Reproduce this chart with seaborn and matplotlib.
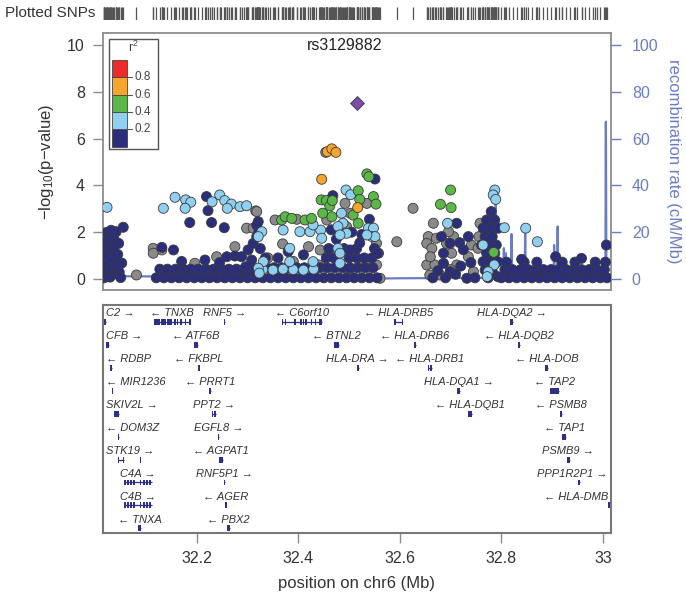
import numpy as np
import pandas as pd
import seaborn as sns
import matplotlib.pyplot as plt
from matplotlib.patches import Rectangle

# ---------------- SNP data (position in Mb, -log10 p), grouped by r2 with the lead SNP
lead_pos = [32.516]
lead_logp = [7.53]

orange_pos = [32.457, 32.466, 32.474, 32.446, 32.517]
orange_logp = [5.44, 5.56, 5.41, 4.26, 3.05]

green_pos = [32.535, 32.539, 32.518, 32.548, 32.553, 32.521, 32.445, 32.455, 32.462, 32.467,
             32.466, 32.448, 32.508, 32.518, 32.367, 32.374, 32.387, 32.413, 32.426, 32.700,
             32.680, 32.701, 32.785]
green_logp = [4.49, 4.37, 3.77, 3.52, 3.20, 3.40, 3.38, 3.35, 3.12, 3.35,
              2.66, 2.81, 2.73, 2.38, 2.52, 2.66, 2.59, 2.52, 2.59, 3.80,
              3.19, 3.05, 1.14]

lblue_pos = [32.023, 32.134, 32.157, 32.178, 32.188, 32.177, 32.230, 32.245, 32.255, 32.268,
             32.260, 32.285, 32.298,
             32.494, 32.503, 32.485, 32.488, 32.478, 32.495, 32.482, 32.403, 32.423, 32.444,
             32.446, 32.429, 32.538, 32.548, 32.545, 32.551, 32.535, 32.328, 32.321, 32.478,
             32.482, 32.383, 32.370, 32.482,
             32.330, 32.350, 32.370, 32.390, 32.410, 32.430, 32.331, 32.383, 32.429, 32.321, 32.323,
             32.787, 32.784, 32.789, 32.806, 32.848, 32.871, 32.764, 32.786, 32.774, 32.772, 32.694]
lblue_logp = [3.06, 3.02, 3.49, 3.38, 3.28, 3.02, 3.30, 3.59, 3.35, 3.20,
              3.02, 3.09, 3.13,
              3.80, 3.60, 2.81, 2.38, 2.24, 1.95, 1.88, 2.02, 2.02, 2.09,
              1.74, 2.31, 2.17, 2.17, 1.81, 1.81, 1.88, 2.02, 1.81, 1.31,
              1.10, 1.31, 2.09, 0.67,
              0.40, 0.38, 0.42, 0.40, 0.38, 0.42, 0.74, 0.74, 0.74, 0.46, 0.25,
              3.80, 3.59, 3.40, 2.19, 2.17, 1.59, 1.45, 0.60, 0.31, 0.10, 2.38]

navy_pos = [
    # left edge cluster
    32.017, 32.017, 32.017, 32.017, 32.019, 32.021, 32.022, 32.023, 32.024, 32.026,
    32.028, 32.031, 32.029, 32.031, 32.033, 32.035, 32.037, 32.040, 32.041, 32.044,
    32.047, 32.050, 32.052, 32.055, 32.041, 32.046,
    # 32.12 - 32.32
    32.120, 32.135, 32.150, 32.165, 32.180, 32.195, 32.210, 32.225, 32.240, 32.255,
    32.270, 32.285, 32.300, 32.315,
    32.127, 32.142, 32.158, 32.173, 32.188, 32.203, 32.218, 32.233, 32.248, 32.263,
    32.278, 32.293, 32.308,
    32.131, 32.154, 32.186, 32.229, 32.254, 32.219, 32.222, 32.216, 32.259, 32.275,
    32.288, 32.301, 32.311, 32.318, 32.308, 32.296, 32.321, 32.318, 32.322, 32.170, 32.245,
    # 32.32 - 32.56
    32.330, 32.345, 32.360, 32.375, 32.390, 32.405, 32.420, 32.435, 32.450, 32.465,
    32.480, 32.495, 32.510, 32.525, 32.540, 32.555,
    32.337, 32.352, 32.367, 32.382, 32.397, 32.412, 32.427, 32.442, 32.457, 32.472,
    32.487, 32.502, 32.517, 32.532, 32.547,
    32.335, 32.360, 32.455, 32.470, 32.500, 32.530, 32.545, 32.515,
    32.325, 32.460, 32.490, 32.515, 32.550, 32.380, 32.410, 32.521, 32.502,
    32.468, 32.551, 32.556, 32.475, 32.505, 32.525, 32.540, 32.465,
    # 32.64 - 32.76
    32.682, 32.699, 32.686, 32.735, 32.686, 32.699, 32.732, 32.712, 32.665, 32.675,
    32.690, 32.710, 32.720, 32.725, 32.748, 32.740, 32.718,
    # 32.76 - 32.80 stack
    32.780, 32.771, 32.787, 32.764, 32.779, 32.794, 32.768, 32.782, 32.761, 32.776,
    32.790, 32.771, 32.787, 32.764, 32.779, 32.793, 32.768, 32.782, 32.793, 32.774,
    # 32.80 - 33.02
    32.800, 32.815, 32.830, 32.845, 32.860, 32.875, 32.890, 32.905, 32.920, 32.935,
    32.950, 32.965, 32.980, 32.995, 33.008,
    32.807, 32.822, 32.838, 32.853, 32.868, 32.883, 32.898, 32.913, 32.928, 32.943,
    32.958, 32.973, 32.988, 33.003,
    32.810, 32.845, 32.870, 32.920, 32.945, 32.985, 33.005,
    32.958, 33.007, 32.840, 32.907]
navy_logp = [
    0.05, 0.42, 0.80, 1.18, 1.58, 1.98, 0.22, 0.62, 1.02, 1.42,
    1.82, 2.08, 0.08, 0.46, 0.86, 1.28, 1.70, 0.22, 0.62, 1.05,
    0.30, 0.06, 0.68, 2.21, 2.02, 1.52,
    0.05, 0.05, 0.05, 0.05, 0.05, 0.05, 0.05, 0.05, 0.05, 0.05,
    0.05, 0.05, 0.05, 0.05,
    0.42, 0.42, 0.42, 0.42, 0.42, 0.42, 0.42, 0.42, 0.42, 0.42,
    0.42, 0.42, 0.42,
    1.35, 1.24, 2.41, 2.41, 2.19, 3.52, 2.92, 0.81, 0.95, 0.98,
    0.95, 1.24, 1.52, 1.81, 0.81, 0.52, 2.45, 2.30, 2.00, 0.75, 0.70,
    0.05, 0.05, 0.05, 0.05, 0.05, 0.05, 0.05, 0.05, 0.05, 0.05,
    0.05, 0.05, 0.05, 0.05, 0.05, 0.05,
    0.48, 0.48, 0.48, 0.48, 0.48, 0.48, 0.48, 0.48, 0.48, 0.48,
    0.48, 0.48, 0.48, 0.48, 0.48,
    0.90, 0.90, 0.90, 0.90, 0.90, 0.90, 0.90, 0.90,
    1.30, 1.30, 1.30, 1.30, 1.30, 1.17, 1.03, 1.54, 1.24,
    3.56, 4.27, 1.10, 1.70, 2.00, 1.90, 2.55, 2.10,
    1.81, 1.52, 1.10, 1.81, 0.67, 0.31, 0.03, 2.38, 0.05, 0.35,
    0.05, 0.20, 0.55, 1.25, 0.05, 0.70, 1.55,
    2.88, 2.52, 2.52, 2.17, 2.17, 2.17, 1.81, 1.81, 1.45, 1.45,
    1.45, 1.10, 1.10, 0.74, 0.74, 0.74, 0.38, 0.31, 0.10, 0.05,
    0.05, 0.05, 0.05, 0.05, 0.05, 0.05, 0.05, 0.05, 0.05, 0.05,
    0.05, 0.05, 0.05, 0.05, 0.05,
    0.40, 0.40, 0.40, 0.40, 0.40, 0.40, 0.40, 0.40, 0.40, 0.40,
    0.40, 0.40, 0.40, 0.40,
    0.72, 0.72, 0.72, 0.72, 0.72, 0.72, 0.72,
    0.88, 1.45, 0.84, 0.95]

gray_pos = [32.081, 32.114, 32.131, 32.114, 32.042, 32.196, 32.239, 32.275, 32.316, 32.298,
            32.318, 32.311, 32.354, 32.397, 32.454, 32.456, 32.495, 32.502, 32.535, 32.492,
            32.554, 32.558, 32.554, 32.561, 32.369, 32.420, 32.443, 32.340, 32.390, 32.440,
            32.470, 32.530, 32.500, 32.594, 32.626, 32.666, 32.656, 32.653, 32.663, 32.653,
            32.659, 32.679, 32.702, 32.706, 32.696, 32.712, 32.735, 32.741, 32.745, 32.669,
            32.672, 32.692, 32.758, 32.756, 32.754, 32.660, 32.700]
gray_logp = [0.17, 1.31, 1.24, 1.10, 1.03, 0.67, 0.95, 1.38, 2.91, 2.17,
             2.88, 2.17, 2.52, 2.55, 5.41, 2.52, 2.24, 2.81, 3.23, 3.23,
             1.52, 1.10, 0.60, 0.03, 1.50, 1.38, 1.24, 0.90, 0.75, 0.60,
             0.95, 0.70, 0.40, 1.59, 3.02, 2.38, 1.81, 1.52, 1.31, 0.60,
             0.17, 0.17, 1.10, 1.81, 2.02, 0.60, 0.95, 1.45, 0.31, 0.60,
             1.74, 1.52, 2.38, 1.81, 1.31, 0.95, 0.40]

# ---------------- recombination rate (cM/Mb)
recomb_pos = [32.015, 32.100, 32.200, 32.300, 32.330, 32.560, 32.600, 32.788, 32.789, 32.790,
              32.804, 32.805, 32.806, 32.808, 32.809, 32.810, 32.819, 32.820, 32.821, 32.846,
              32.847, 32.848, 32.903, 32.904, 32.905, 32.910, 32.911, 32.912, 33.005, 33.006,
              33.007, 33.017]
recomb_rate = [1.2, 1.1, 1.2, 1.0, 0.3, 0.2, 0.3, 0.5, 34.6, 0.5,
               0.5, 13.2, 0.5, 0.5, 11.0, 0.5, 0.5, 19.2, 0.5, 0.5,
               21.0, 0.5, 0.5, 14.5, 0.5, 0.5, 22.4, 0.5, 0.5, 67.2,
               0.5, 0.5]

# ---------------- genes
gene_names = ["C2", "TNXB", "RNF5", "C6orf10", "HLA-DRB5", "HLA-DQA2",
              "CFB", "ATF6B", "BTNL2", "HLA-DRB6", "HLA-DQB2",
              "RDBP", "FKBPL", "HLA-DRA", "HLA-DRB1", "HLA-DOB",
              "MIR1236", "PRRT1", "HLA-DQA1", "TAP2",
              "SKIV2L", "PPT2", "HLA-DQB1", "PSMB8",
              "DOM3Z", "EGFL8", "TAP1",
              "STK19", "AGPAT1", "PSMB9",
              "C4A", "RNF5P1", "PPP1R2P1",
              "C4B", "AGER", "HLA-DMB",
              "TNXA", "PBX2"]
gene_start = [32.017, 32.116, 32.253, 32.367, 32.589, 32.818,
              32.021, 32.195, 32.471, 32.628, 32.832,
              32.028, 32.203, 32.515, 32.655, 32.887,
              32.032, 32.224, 32.713, 32.896,
              32.036, 32.229, 32.735, 32.916,
              32.045, 32.241, 32.920,
              32.045, 32.244, 32.929,
              32.057, 32.253, 32.951,
              32.057, 32.256, 33.010,
              32.085, 32.259]
gene_end = [32.021, 32.186, 32.255, 32.446, 32.605, 32.822,
            32.026, 32.202, 32.480, 32.632, 32.837,
            32.033, 32.205, 32.519, 32.664, 32.891,
            32.033, 32.227, 32.718, 32.914,
            32.047, 32.238, 32.742, 32.919,
            32.047, 32.244, 32.928,
            32.056, 32.252, 32.935,
            32.111, 32.255, 32.955,
            32.111, 32.258, 33.017,
            32.089, 32.265]
gene_strand = ["+", "-", "+", "-", "-", "+",
               "+", "-", "-", "-", "-",
               "-", "-", "+", "-", "-",
               "-", "-", "+", "-",
               "+", "+", "-", "-",
               "-", "+", "-",
               "+", "-", "+",
               "+", "+", "+",
               "+", "-", "-",
               "-", "-"]
gene_row = [0, 0, 0, 0, 0, 0,
            1, 1, 1, 1, 1,
            2, 2, 2, 2, 2,
            3, 3, 3, 3,
            4, 4, 4, 4,
            5, 5, 5,
            6, 6, 6,
            7, 7, 7,
            8, 8, 8,
            9, 9]
c4_exons = [(32.057, 32.059), (32.062, 32.066), (32.068, 32.072), (32.074, 32.078),
            (32.088, 32.090), (32.093, 32.097), (32.099, 32.104), (32.106, 32.110)]
gene_exons = {
    "TNXB": [(32.116, 32.128), (32.130, 32.140), (32.142, 32.152), (32.154, 32.158),
             (32.160, 32.163), (32.167, 32.171), (32.176, 32.178), (32.185, 32.186)],
    "C6orf10": [(32.368, 32.370), (32.373, 32.375), (32.392, 32.394), (32.404, 32.406),
                (32.409, 32.411), (32.414, 32.416), (32.425, 32.427), (32.432, 32.434),
                (32.441, 32.446)],
    "HLA-DRB5": [(32.589, 32.593), (32.604, 32.605)],
    "ATF6B": [(32.195, 32.196), (32.198, 32.202)],
    "BTNL2": [(32.471, 32.473), (32.475, 32.480)],
    "HLA-DRB1": [(32.655, 32.657), (32.659, 32.664)],
    "STK19": [(32.045, 32.047), (32.054, 32.056), (32.087, 32.0885)],
    "PPT2": [(32.229, 32.231), (32.233, 32.238)],
    "C4A": c4_exons,
    "C4B": c4_exons,
}

# ---------------- styling
sns.set_style("white")
plt.rcParams["font.family"] = ["Liberation Sans", "DejaVu Sans"]
plt.rcParams["mathtext.default"] = "regular"

ld_order = ["gray", "navy", "lblue", "green", "orange"]
palette = {"gray": "#8a8a8a", "navy": "#2b2e7a", "lblue": "#8fd0f0",
           "green": "#5bb848", "orange": "#f5a52c"}
band_colors = ["#2b2e7a", "#8fd0f0", "#5bb848", "#f5a52c", "#ec2a2a"]
lead_color = "#7b4da6"
recomb_color = "#6a7dc0"
gene_color = "#2e2f88"
spine_color = "#8c8c8c"
text_color = "#333333"

xlim = (32.015, 33.016)

df = pd.concat([
    pd.DataFrame({"pos": gray_pos, "logp": gray_logp, "ld": "gray"}),
    pd.DataFrame({"pos": navy_pos, "logp": navy_logp, "ld": "navy"}),
    pd.DataFrame({"pos": lblue_pos, "logp": lblue_logp, "ld": "lblue"}),
    pd.DataFrame({"pos": green_pos, "logp": green_logp, "ld": "green"}),
    pd.DataFrame({"pos": orange_pos, "logp": orange_logp, "ld": "orange"}),
], ignore_index=True)

fig = plt.figure(figsize=(6.86, 6.05), dpi=100)
ax = fig.add_axes([0.1501, 0.5207, 0.7405, 0.4248])
gax = fig.add_axes([0.1501, 0.1190, 0.7405, 0.3769])
rug = fig.add_axes([0.1501, 0.967, 0.7405, 0.021])

# ---- recombination rate on twin axis, drawn underneath points
ax2 = ax.twinx()
ax.set_zorder(ax2.get_zorder() + 1)
ax.patch.set_visible(False)
sns.lineplot(x=recomb_pos, y=recomb_rate, ax=ax2, color=recomb_color, lw=1.6,
             estimator=None, sort=False)
ax2.set_ylim(-4.7, 105.1)
ax2.set_yticks([0, 20, 40, 60, 80, 100])
ax2.tick_params(axis="y", length=7, width=1, color=recomb_color, labelcolor=recomb_color,
                labelsize=11.5, pad=8)
ax2.set_ylabel("recombination rate (cM/Mb)", color=recomb_color, fontsize=12,
               rotation=270, labelpad=16)
for s in ax2.spines.values():
    s.set_visible(False)

# ---- association points
sns.scatterplot(data=df, x="pos", y="logp", hue="ld", palette=palette, hue_order=ld_order,
                s=52, edgecolor="#3a3a3a", linewidth=0.6, legend=False, ax=ax, zorder=3)
sns.scatterplot(x=lead_pos, y=lead_logp, marker="D", s=50, color=lead_color,
                edgecolor="#3a3a3a", linewidth=0.6, ax=ax, zorder=4)

ax.set_xlim(*xlim)
ax.set_ylim(-0.47, 10.51)
ax.set_xticks([])
ax.set_yticks([0, 2, 4, 6, 8, 10])
ax.set_xlabel("")
ax.set_ylabel("\u2212log$_{10}$(p\u2212value)", fontsize=12, color=text_color, labelpad=8)
ax.tick_params(axis="y", length=7, width=1, color=spine_color, labelcolor=text_color,
               labelsize=11.5, pad=6, left=True)
for s in ax.spines.values():
    s.set_color(spine_color)
    s.set_linewidth(1.3)
ax.text(0.476, 0.953, "rs3129882", transform=ax.transAxes, ha="center", va="center",
        fontsize=11.5, color="#222222")

# ---- r2 legend
ax.add_patch(Rectangle((0.0124, 0.547), 0.0966, 0.430, transform=ax.transAxes,
                       fill=False, edgecolor="#555555", lw=1, zorder=6))
band_h = 0.0674
for i, c in enumerate(band_colors):
    ax.add_patch(Rectangle((0.0183, 0.558 + i * band_h), 0.0283, band_h,
                           transform=ax.transAxes, facecolor=c, edgecolor="#444444",
                           lw=0.6, zorder=6))
for i, lab in enumerate(["0.2", "0.4", "0.6", "0.8"], start=1):
    yb = 0.558 + i * band_h
    ax.plot([0.0466, 0.058], [yb, yb], transform=ax.transAxes, color="#555555", lw=0.8,
            zorder=6)
    ax.text(0.062, yb, lab, transform=ax.transAxes, ha="left", va="center", fontsize=8.5,
            color="#444444", zorder=6)
ax.text(0.059, 0.945, "r$^2$", transform=ax.transAxes, ha="center", va="center",
        fontsize=9, color="#444444", zorder=6)

# ---- plotted SNPs rug
all_pos = np.concatenate([gray_pos, navy_pos, lblue_pos, green_pos, orange_pos, lead_pos])
rug.vlines(all_pos, 0, 1, color="#555555", lw=0.9)
rug.set_xlim(*xlim)
rug.set_ylim(0, 1)
rug.axis("off")
fig.text(0.007, 0.978, "Plotted SNPs", ha="left", va="center", fontsize=11, color=text_color)

# ---- gene panel
gax.set_xlim(*xlim)
gax.set_ylim(-9.2, 0.73)
gax.set_yticks([])
gax.set_xticks([32.2, 32.4, 32.6, 32.8, 33.0])
gax.set_xticklabels(["32.2", "32.4", "32.6", "32.8", "33"])
gax.tick_params(axis="x", length=7, width=1, color=spine_color, labelcolor=text_color,
                labelsize=11.5, pad=6, bottom=True)
gax.set_xlabel("position on chr6 (Mb)", fontsize=12, color=text_color, labelpad=7)
for s in gax.spines.values():
    s.set_color("#777777")
    s.set_linewidth(1.5)

exon_h = 0.26
labels = []
for name, g0, g1, strand, row in zip(gene_names, gene_start, gene_end, gene_strand, gene_row):
    y = -row
    gax.plot([g0, g1], [y, y], color=gene_color, lw=0.9, solid_capstyle="butt")
    exons = gene_exons.get(name, [(g0, g1)])
    for e0, e1 in exons:
        w = max(e1 - e0, 0.0025)
        gax.add_patch(Rectangle((e0, y - exon_h / 2), w, exon_h, facecolor=gene_color,
                                edgecolor="none"))
    lab = f"{name} \u2192" if strand == "+" else f"\u2190 {name}"
    t = gax.text((g0 + g1) / 2, y + 0.36, lab, ha="center", va="center", fontsize=8,
                 style="italic", color=text_color)
    labels.append(t)

# keep labels inside the panel
fig.canvas.draw()
renderer = fig.canvas.get_renderer()
inv = gax.transData.inverted()
pad = 0.006
for t in labels:
    bb = t.get_window_extent(renderer)
    (x0, _), (x1, _) = inv.transform([[bb.x0, bb.y0], [bb.x1, bb.y1]])
    if x0 < xlim[0] + pad:
        t.set_ha("left")
        t.set_x(xlim[0] + pad)
    elif x1 > xlim[1] - pad:
        t.set_ha("right")
        t.set_x(xlim[1] - pad)

fig.savefig("out.png", dpi=100)
